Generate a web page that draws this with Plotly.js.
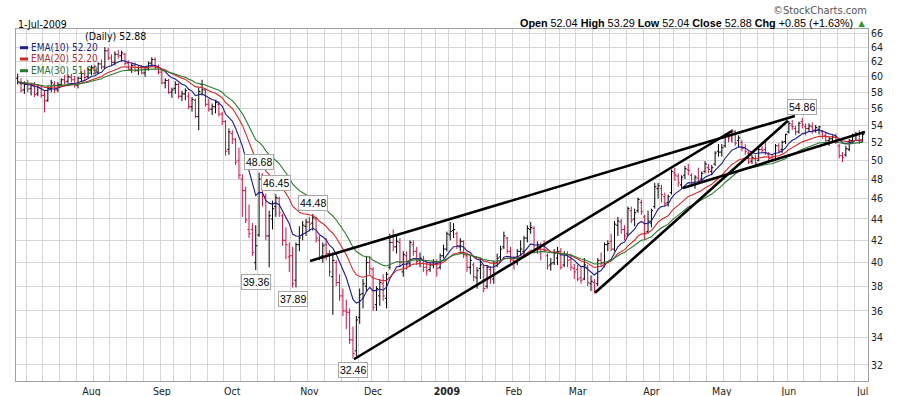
<!DOCTYPE html>
<html><head><meta charset="utf-8">
<script src="https://cdn.plot.ly/plotly-3.0.1.min.js"></script>
<style>html,body{margin:0;padding:0;background:#fff}#chart{width:900px;height:396px}</style>
</head><body><div id="chart"></div>
<script>
// ---- calendar (categories) ----
const firstDay = [2008, 6, 1];   // 1-Jul-2008 (month 0-based)
const lastDay = [2009, 6, 1];    // 1-Jul-2009
const holidays = ['2008-07-04','2008-09-01','2008-11-27','2008-12-25','2009-01-01','2009-01-19','2009-02-16','2009-04-10','2009-05-25'];
const monthNames = ['Jan','Feb','Mar','Apr','May','Jun','Jul','Aug','Sep','Oct','Nov','Dec'];

// ---- daily OHLC, one line per month (Jul-08 ... Jul-09) ----
const opens = [
59.8,59.3,58.3,59.0,58.5,58.8,57.8,58.5,57.6,57.0,58.5,59.0,58.3,59.0,59.6,59.4,59.9,59.6,58.9,59.8,60.4,60.0,
60.9,61.2,60.6,61.7,61.3,63.5,62.5,61.9,63.0,62.8,63.0,61.8,61.0,61.5,60.8,61.2,60.5,61.0,61.8,62.3,61.2,
60.6,59.2,59.5,58.0,58.5,59.0,57.5,57.8,57.5,56.2,57.0,55.0,59.0,58.3,56.5,55.9,56.2,56.5,55.3,54.4,51.2,
53.0,52.3,50.0,48.0,46.8,43.0,43.0,40.0,42.5,48.4,46.2,42.4,44.0,45.2,46.0,44.3,42.0,40.5,40.6,38.5,41.6,42.5,43.3,
43.7,43.6,44.0,42.0,40.6,41.6,40.8,38.8,40.0,38.3,37.2,36.0,35.9,33.8,33.0,35.5,37.4,38.0,40.0,
39.4,36.5,37.2,38.2,37.0,39.6,41.8,41.4,41.8,39.2,40.6,39.9,41.6,41.0,40.2,40.3,39.6,39.4,39.8,40.0,39.6,40.6,
41.2,42.5,42.9,42.6,41.4,41.9,40.6,39.6,39.8,38.7,39.5,39.6,38.0,39.4,38.6,40.0,40.5,41.4,42.2,41.0,
40.2,40.0,41.0,41.0,42.2,43.0,43.1,41.2,41.2,41.6,40.6,39.8,40.0,40.4,41.0,39.8,40.6,40.3,39.5,
39.4,38.7,38.6,39.6,38.2,38.3,38.2,40.2,40.0,41.6,41.9,41.2,43.4,43.7,43.0,42.6,44.8,44.0,44.8,45.6,44.2,42.8,
43.6,45.2,47.0,47.0,46.2,45.6,46.6,48.6,48.3,47.4,48.4,49.0,48.4,47.4,48.1,48.0,48.8,49.2,48.8,49.6,51.0,
50.9,51.6,52.8,52.8,53.2,52.2,52.0,51.4,50.8,49.9,50.2,50.0,51.2,51.2,50.6,50.3,50.0,51.6,51.2,52.1,
53.2,54.0,53.6,53.2,54.4,53.8,53.6,53.8,53.4,53.5,53.2,52.8,52.2,52.4,52.8,51.6,50.5,50.6,51.2,52.2,52.8,53.0,
52.04];
const highs = [
60.4,59.8,59.4,59.6,59.2,59.3,59.0,58.8,58.2,58.8,59.6,59.4,59.3,59.8,60.2,60.3,60.4,60.1,60.0,60.7,60.9,61.2,
61.5,61.6,61.9,62.3,64.0,63.9,63.0,63.4,63.6,63.5,63.2,62.2,61.8,61.9,61.4,61.5,61.3,62.0,62.6,62.6,61.6,
60.9,59.8,59.7,58.6,59.4,59.2,58.2,58.5,58.0,57.4,57.2,58.6,59.6,58.5,57.2,56.6,57.0,56.9,55.6,54.6,53.6,
53.4,52.5,51.4,48.5,47.2,45.4,43.6,43.4,48.68,48.6,46.5,44.8,45.8,46.45,46.2,44.5,43.2,41.8,41.4,41.8,43.3,43.8,44.0,
44.2,44.48,44.2,42.4,41.8,42.2,41.1,40.9,40.2,39.0,37.8,36.9,36.2,34.8,35.6,37.8,38.6,40.5,40.6,
39.6,38.0,38.6,39.0,39.2,42.6,43.0,42.4,42.2,41.0,41.0,42.0,42.0,41.4,40.9,40.6,40.2,40.0,40.3,40.3,40.8,41.6,
42.8,43.7,43.6,42.8,42.2,42.0,40.9,40.6,40.0,39.6,40.4,39.8,39.8,39.7,40.2,40.8,41.5,42.8,42.3,41.4,
40.6,41.2,42.0,42.4,43.4,43.7,43.3,41.9,41.8,42.0,40.8,40.4,41.2,41.4,41.3,41.0,41.0,40.8,39.9,
39.8,39.6,40.4,39.8,38.9,38.6,40.4,40.9,41.8,42.0,42.6,43.8,44.2,44.0,43.4,45.2,45.2,45.0,46.1,45.9,44.4,44.8,
45.0,47.6,47.6,47.4,46.6,46.4,49.0,49.2,48.6,48.4,49.4,49.6,48.6,48.4,49.2,48.8,49.9,49.6,49.5,51.0,51.8,
51.8,53.0,53.2,53.5,53.4,52.8,52.3,51.8,51.0,50.6,50.6,51.4,51.6,52.0,50.9,50.6,51.8,51.9,52.2,53.0,
54.5,54.6,53.9,54.4,54.86,54.2,54.2,54.3,54.0,53.9,53.4,53.2,52.6,52.8,53.0,51.8,50.9,51.6,52.4,53.0,53.2,53.4,
53.29];
const lows = [
59.0,58.0,57.8,58.0,57.6,57.4,57.5,57.3,55.5,56.8,58.0,57.9,58.0,58.8,59.0,59.1,59.3,58.6,58.5,59.4,59.6,59.8,
60.2,60.3,60.4,61.0,61.0,62.2,61.4,61.5,62.4,62.0,61.5,60.8,60.5,60.6,60.2,60.3,60.0,60.8,61.3,61.0,60.3,
59.0,58.5,57.8,57.3,57.8,57.2,56.9,57.0,55.9,55.6,54.8,53.4,57.6,56.2,55.6,55.2,55.4,55.0,54.0,50.5,50.6,
51.8,49.5,48.0,44.2,43.6,42.2,40.6,39.36,42.3,45.2,42.0,39.6,43.0,44.2,44.2,41.5,40.3,39.2,37.89,37.9,41.0,42.0,42.4,
42.8,42.9,41.8,40.2,40.0,40.2,38.8,35.7,38.0,36.8,35.6,34.6,33.5,32.46,32.6,35.0,36.2,37.6,39.0,
36.0,36.0,36.4,36.8,36.2,39.4,41.0,40.8,39.6,38.8,39.4,39.6,40.6,39.8,39.6,39.2,38.9,39.2,39.5,38.8,39.4,40.4,
41.0,42.0,42.2,41.2,41.0,40.4,39.2,39.0,38.4,37.8,38.6,37.5,37.8,38.2,38.2,39.6,40.1,41.2,40.8,40.0,
39.4,39.8,40.6,40.4,41.8,42.6,40.8,40.8,40.2,40.9,39.4,39.3,39.8,39.8,39.4,39.6,39.6,39.3,38.6,
38.4,38.2,38.5,38.0,37.6,37.4,38.0,39.6,39.6,41.0,41.0,41.0,42.4,42.6,42.0,42.4,43.6,43.3,44.6,44.4,42.0,42.6,
43.2,45.0,46.0,45.6,45.2,45.2,46.4,47.8,47.2,47.0,48.0,48.4,47.2,47.0,47.6,47.6,48.6,48.6,48.4,49.4,50.4,
50.4,51.4,52.0,52.0,51.6,51.4,51.0,50.6,49.6,49.6,49.4,49.9,50.8,50.6,49.8,49.8,49.9,50.8,50.8,51.8,
53.0,53.4,52.8,53.0,53.6,52.8,53.2,53.0,53.1,52.9,52.4,52.0,51.6,52.0,51.8,50.2,49.8,50.4,51.0,51.9,52.2,51.8,
52.04];
const closes = [
59.3,58.2,59.0,58.4,58.9,57.7,58.6,57.6,56.9,58.5,59.2,58.3,59.0,59.6,59.3,60.0,59.6,58.9,59.8,60.4,59.9,60.9,
61.2,60.6,61.7,61.3,63.5,62.5,61.9,63.0,62.8,63.2,61.8,61.0,61.5,60.8,61.2,60.5,61.0,61.8,62.3,61.2,60.6,
59.2,59.5,58.0,58.3,59.0,57.5,57.8,58.2,56.2,57.1,55.0,58.1,58.3,56.5,55.9,56.2,56.7,55.3,54.4,51.0,53.2,
52.4,49.8,48.4,46.8,43.9,42.6,40.9,41.5,48.0,46.4,42.4,44.3,45.0,46.1,44.6,42.0,41.6,40.6,38.2,41.6,42.2,43.4,43.7,
43.5,44.1,42.2,40.5,41.5,40.8,39.2,40.2,38.3,37.2,36.0,35.9,33.8,32.8,35.3,37.3,38.2,40.0,39.5,
36.3,37.8,38.3,37.2,39.0,41.8,41.4,41.9,40.0,40.7,39.8,41.8,41.0,40.1,40.4,39.6,39.3,39.8,40.1,39.5,40.6,41.2,
42.6,42.8,43.0,41.5,41.9,40.7,39.6,40.2,38.8,39.3,39.8,37.8,39.6,38.9,39.9,40.4,41.2,42.4,41.0,40.3,
40.0,41.0,41.2,42.2,43.1,43.2,41.2,41.6,41.5,41.1,39.7,39.9,40.8,41.0,39.6,40.7,40.2,39.6,39.2,
38.6,38.5,39.8,38.3,38.4,37.6,40.2,40.0,41.6,41.7,41.2,43.5,43.8,43.0,42.4,45.0,43.9,44.6,45.9,44.7,42.6,43.8,
44.8,47.2,47.3,46.4,45.5,46.2,48.8,48.4,47.6,48.2,49.1,48.9,47.4,48.2,47.8,48.6,49.6,49.0,49.2,50.8,50.9,
51.4,52.8,52.5,53.3,51.9,52.5,51.3,51.0,49.8,50.3,49.7,51.2,51.1,50.8,50.2,50.1,51.6,51.0,52.0,52.9,
54.2,53.8,53.2,54.2,54.0,53.6,53.9,53.4,53.7,53.8,52.7,52.2,52.4,52.6,52.0,50.5,50.3,51.3,52.2,52.7,53.0,52.03,
52.88];

// ---- moving-average periods ----
const emaPeriods = [10, 20, 30];
const emaLabels = ['EMA(10) 52.20', 'EMA(20) 52.20', 'EMA(30) 51.99'];

// ---- hand-drawn trend lines: [start bar, start price, end bar, end price] ----
const trendStartBar = [87.2, 100.3, 172.2, 198.4];
const trendStartVal = [40.15, 32.40, 37.46, 47.07];
const trendEndBar   = [231.8, 213.0, 229.7, 252.7];
const trendEndVal   = [55.08, 53.30, 54.50, 53.18];

// ---- price call-outs ----
const noteBar = [72, 77, 88, 71, 82, 100, 234];
const noteVal = [48.68, 46.45, 44.48, 39.36, 37.89, 32.46, 54.86];
const noteSide = ['above','above','above','below','below','below','above'];

// ---- y-axis ticks ----
const priceTicks = [32,34,36,38,40,42,44,46,48,50,52,54,56,58,60,62,64,66];

// ---------------------------------------------------------------
const dates = [];
{
  const d = new Date(Date.UTC(firstDay[0], firstDay[1], firstDay[2]));
  const end = new Date(Date.UTC(lastDay[0], lastDay[1], lastDay[2]));
  while (d <= end) {
    const dow = d.getUTCDay();
    const s = d.toISOString().slice(0, 10);
    if (dow !== 0 && dow !== 6 && holidays.indexOf(s) < 0) dates.push(new Date(d.getTime()));
    d.setUTCDate(d.getUTCDate() + 1);
  }
}
const n = closes.length;
const idx = closes.map((_, i) => i);

const monthIdx = [], monthLbl = [];
const weekIdx = [];
for (let i = 0; i < dates.length; i++) {
  if (i > 0 && dates[i].getUTCMonth() !== dates[i-1].getUTCMonth()) {
    monthIdx.push(i);
    const m = dates[i].getUTCMonth();
    monthLbl.push(m === 0 ? '<b>' + dates[i].getUTCFullYear() + '</b>' : monthNames[m]);
  }
  if (i < dates.length - 1 && dates[i+1].getUTCDay() <= dates[i].getUTCDay()) weekIdx.push(i + 0.5);
}

const upIdx = [], dnIdx = [];
for (let i = 0; i < n; i++) {
  if (i === 0 || closes[i] >= closes[i-1]) upIdx.push(i); else dnIdx.push(i);
}
function ohlcTrace(sel, color) {
  return {
    type: 'ohlc', x: sel, open: sel.map(i => opens[i]), high: sel.map(i => highs[i]),
    low: sel.map(i => lows[i]), close: sel.map(i => closes[i]),
    increasing: {line: {color: color, width: 1}}, decreasing: {line: {color: color, width: 1}},
    tickwidth: 0.5, hoverinfo: 'skip', showlegend: false
  };
}
function ema(period) {
  const a = 2 / (period + 1);
  let e = closes[0];
  return closes.map((c, i) => (i === 0 ? e : (e = a * c + (1 - a) * e)));
}
const emaColors = ['#1c1c8e', '#d22a2a', '#2b7a2b'];
const emaTextColors = ['#1f1f7a', '#b03030', '#2f6f2f'];

const traces = [ohlcTrace(upIdx, '#000000'), ohlcTrace(dnIdx, '#cc1144')];
emaPeriods.forEach((p, k) => traces.push({
  type: 'scatter', mode: 'lines', x: idx, y: ema(p),
  line: {color: emaColors[k], width: 1.1}, hoverinfo: 'skip', showlegend: false
}));
trendStartBar.forEach((b, k) => traces.push({
  type: 'scatter', mode: 'lines', x: [b, trendEndBar[k]], y: [trendStartVal[k], trendEndVal[k]],
  line: {color: '#000', width: 2.6}, hoverinfo: 'skip', showlegend: false
}));

const L = 16, R = 868, T = 29, B = 381, W = 900, H = 396;
const px = x => (x - L) / (R - L);
const py = y => (B - y) / (B - T);

const annotations = [];
noteBar.forEach((b, k) => annotations.push({
  x: b, y: Math.log10(noteVal[k]), xref: 'x', yref: 'y', text: noteVal[k].toFixed(2),
  showarrow: false, yshift: noteSide[k] === 'above' ? 11 : -12,
  bgcolor: '#ffffff', bordercolor: '#a8a8a8', borderwidth: 1, borderpad: 1,
  font: {family: 'Liberation Sans, Arial, sans-serif', size: 10.5, color: '#000'}
}));
const smallFont = 'DejaVu Sans Condensed, DejaVu Sans, Verdana, sans-serif';
annotations.push({xref: 'paper', yref: 'paper', x: px(16), y: py(24), xanchor: 'left', yanchor: 'middle',
  text: '1-Jul-2009', showarrow: false, font: {family: smallFont, size: 10.5, color: '#000'}});
annotations.push({xref: 'paper', yref: 'paper', x: px(83), y: py(36), xanchor: 'left', yanchor: 'middle',
  text: '(Daily) 52.88', showarrow: false, font: {family: smallFont, size: 10.5, color: '#000'}});
const legendY = [47.7, 59, 70.7];
emaLabels.forEach((t, k) => annotations.push({xref: 'paper', yref: 'paper', x: px(29), y: py(legendY[k]),
  xanchor: 'left', yanchor: 'middle', text: t, showarrow: false,
  font: {family: smallFont, size: 10, color: emaTextColors[k]}}));
annotations.push({xref: 'paper', yref: 'paper', x: px(869), y: py(23), xanchor: 'right', yanchor: 'middle',
  text: '<b>Open</b> 52.04 <b>High</b> 53.29 <b>Low</b> 52.04 <b>Close</b> 52.88 <b>Chg</b> +0.85 (+1.63%) <span style="color:#2a9a2a">▲</span>',
  showarrow: false, font: {family: 'Liberation Sans, Arial, sans-serif', size: 10.8, color: '#000'}});
annotations.push({xref: 'paper', yref: 'paper', x: px(869), y: py(10), xanchor: 'right', yanchor: 'middle',
  text: '©StockCharts.com', showarrow: false, font: {family: smallFont, size: 11, color: '#555'}});

const shapes = emaColors.map((c, k) => ({type: 'line', xref: 'paper', yref: 'paper',
  x0: px(20), x1: px(28), y0: py(legendY[k]), y1: py(legendY[k]), line: {color: c, width: 3}}));

const layout = {
  width: W, height: H,
  margin: {l: L, r: W - R, t: T, b: H - B, pad: 0},
  paper_bgcolor: '#fff', plot_bgcolor: '#fff', showlegend: false,
  xaxis: {
    range: [-0.5, 253.6], tickmode: 'array', tickvals: monthIdx, ticktext: monthLbl,
    showgrid: false, zeroline: false, ticks: '', showline: true, mirror: true,
    linecolor: '#a0a0a0', linewidth: 1, rangeslider: {visible: false}, fixedrange: true,
    tickfont: {family: 'Liberation Sans Narrow, DejaVu Sans Condensed, Arial Narrow, sans-serif', size: 10.5, color: '#222'},
    minor: {tickmode: 'array', tickvals: weekIdx, showgrid: true, gridcolor: '#d6d6d6', gridwidth: 1, ticks: ''}
  },
  yaxis: {
    type: 'log', range: [Math.log10(30.90), Math.log10(66.58)], side: 'right',
    tickmode: 'array', tickvals: priceTicks, ticktext: priceTicks.map(String),
    showgrid: true, gridcolor: '#d6d6d6', gridwidth: 1, zeroline: false, ticks: '',
    showline: true, mirror: true, linecolor: '#a0a0a0', linewidth: 1, fixedrange: true,
    tickfont: {family: smallFont, size: 10.5, color: '#222'}
  },
  annotations: annotations, shapes: shapes
};
Plotly.newPlot('chart', traces, layout, {staticPlot: true, displayModeBar: false});
</script></body></html>
